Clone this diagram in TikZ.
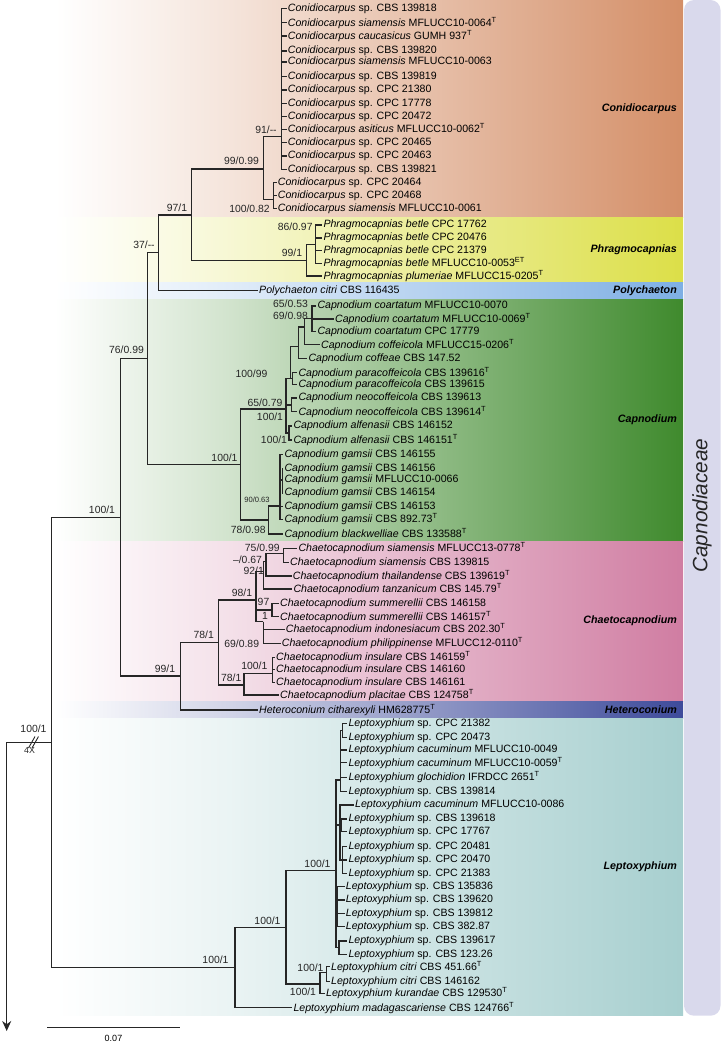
\documentclass[tikz,border=0pt]{standalone}
\usepackage{fontspec}
\setmainfont{Liberation Sans}
\usetikzlibrary{arrows.meta}
\definecolor{TreeInk}{HTML}{262626}
\definecolor{ConidioTone}{HTML}{D48F68}
\definecolor{PhragmoTone}{HTML}{DCDF48}
\definecolor{PolyTone}{HTML}{7EAFE4}
\definecolor{CapnoTone}{HTML}{3F8A2D}
\definecolor{ChaetoTone}{HTML}{D07DA2}
\definecolor{HeteroTone}{HTML}{3E4B9B}
\definecolor{LeptoTone}{HTML}{A7CFCF}
\definecolor{FamilyBar}{HTML}{D9D9EC}
\newcommand{\tx}[2]{\textit{#1} #2}
\newcommand{\typ}{\textsuperscript{T}}
% clade band: top, bottom, colour
\newcommand{\cladeband}[3]{%
  \shade[left color=white,right color=#3!24] (55,#1) rectangle (232,#2);
  \shade[left color=#3!24,right color=#3] (231.5,#1) rectangle (683,#2);
}

\begin{document}
\begin{tikzpicture}[x=1pt,y=-1pt,
  branch/.style={draw=TreeInk,line width=1.3pt},
  taxon/.style={anchor=west,inner xsep=1pt,inner ysep=0pt,font=\fontsize{10.6}{12}\selectfont},
  support/.style={inner sep=0pt,font=\fontsize{10.4}{12}\selectfont,text=TreeInk},
  clade/.style={anchor=east,inner sep=0pt,font=\fontsize{10.7}{12}\selectfont\bfseries\itshape}
]
\useasboundingbox (0,0) rectangle (721,1045);

% backgrounds
\cladeband{0}{217.3}{ConidioTone}
\cladeband{217.3}{282.3}{PhragmoTone}
\cladeband{282.3}{299}{PolyTone}
\cladeband{299}{541.7}{CapnoTone}
\cladeband{541.7}{701.7}{ChaetoTone}
\cladeband{701.7}{718.3}{HeteroTone}
\cladeband{718.3}{1015.7}{LeptoTone}
\fill[FamilyBar,rounded corners=10pt] (684,0) rectangle (720.5,1015.7);
\node[rotate=90,inner sep=0pt,font=\fontsize{20.8}{24}\selectfont\itshape,text=black!85] (family) at (702,505.5) {Capnodiaceae};

% clade names
\node[clade] (labCon) at (677,108.3) {Conidiocarpus};
\node[clade] (labPhr) at (677,249.3) {Phragmocapnias};
\node[clade] (labPol) at (677,290.7) {Polychaeton};
\node[clade] (labCap) at (677,419.3) {Capnodium};
\node[clade] (labCha) at (677,620.7) {Chaetocapnodium};
\node[clade] (labHet) at (677,710) {Heteroconium};
\node[clade] (labLep) at (677,866.7) {Leptoxyphium};

% internal nodes
\coordinate (nRoot) at (6.7,742.3);
\coordinate (nOut) at (6.7,1031);
\coordinate (nIng) at (51.7,742.3);
\coordinate (nFam) at (120.7,517.7);
\coordinate (n76) at (147.7,358.3);
\coordinate (n37) at (158.3,252.7);
\coordinate (n97) at (191.7,215);
\coordinate (nConA) at (263.7,169);
\coordinate (nCon13) at (281.7,136.7);
\coordinate (nCon3) at (273.3,199.3);
\coordinate (nPhrA) at (306.7,260.7);
\coordinate (nPhrB) at (315.7,244.3);
\coordinate (nCapA) at (240.5,464.3);
\coordinate (nCapU) at (286,409);
\coordinate (nCapW) at (290.7,378.5);
\coordinate (nCapX) at (298.3,346.7);
\coordinate (nCapY) at (304.3,327);
\coordinate (nCapZ) at (312,318.3);
\coordinate (nCapPara) at (292.7,378.5);
\coordinate (nCapNeo) at (291.5,405);
\coordinate (nCapAlf) at (289,433);
\coordinate (nCapG) at (268.3,520);
\coordinate (nCapGam) at (280,506);
\coordinate (nCapGam2) at (282.3,480);
\coordinate (n99c) at (180.5,676);
\coordinate (nChaA) at (218.3,642.3);
\coordinate (nCha98) at (256,600);
\coordinate (nChaP) at (263.3,571.7);
\coordinate (nChaQ) at (266,561.7);
\coordinate (nChaR) at (283.3,553.3);
\coordinate (nChaSum) at (272,610);
\coordinate (nChaIP) at (263.3,621.7);
\coordinate (nChaB) at (244,685);
\coordinate (nChaIns) at (272.7,673.3);
\coordinate (nLepA) at (235,967.7);
\coordinate (nLepB) at (286,927.3);
\coordinate (nLepC) at (336,870.7);
\coordinate (nLepK) at (320,984);
\coordinate (nLepCit) at (326.7,972.7);
\coordinate (nLepS1) at (340.7,780);
\coordinate (nLepS1a) at (342.5,730.3);
\coordinate (nLepS2) at (340,825);
\coordinate (nLepS2a) at (341.8,825.3);
\coordinate (nLepS2b) at (342.8,860);
\coordinate (nLepS3) at (337.5,906.7);
\coordinate (nLepS4) at (339,947.7);

\draw[branch] (nRoot) -- (nIng);
\draw[branch,-{Stealth[length=10pt,width=9pt]}] (nRoot) -- (nOut);
\foreach \a/\b in {nIng/nFam,nIng/nLepA,nFam/n76,nFam/n99c,n76/n37,n76/nCapA,
  n37/n97,n97/nConA,n97/nPhrA,nConA/nCon13,nConA/nCon3,nPhrA/nPhrB,
  nCapA/nCapU,nCapA/nCapG,nCapU/nCapW,nCapU/nCapNeo,nCapU/nCapAlf,
  nCapW/nCapX,nCapW/nCapPara,nCapX/nCapY,nCapY/nCapZ,nCapG/nCapGam,nCapGam/nCapGam2,
  n99c/nChaA,nChaA/nCha98,nChaA/nChaB,nCha98/nChaP,nCha98/nChaSum,nCha98/nChaIP,
  nChaP/nChaQ,nChaQ/nChaR,nChaB/nChaIns,
  nLepA/nLepB,nLepB/nLepC,nLepB/nLepK,nLepK/nLepCit,nLepC/nLepS1,nLepC/nLepS2,
  nLepC/nLepS3,nLepC/nLepS4,nLepS1/nLepS1a,nLepS2/nLepS2a,nLepS2/nLepS2b}
  \draw[branch] (\a) |- (\b);

% Conidiocarpus, Phragmocapnias, Polychaeton
\foreach \p/\x/\y/\lab [count=\i] in {
  nCon13/286.7/8.5/{\tx{Conidiocarpus}{sp. CBS 139818}},
  nCon13/286.7/22.7/{\tx{Conidiocarpus siamensis}{MFLUCC10-0064\typ}},
  nCon13/286.7/36/{\tx{Conidiocarpus caucasicus}{GUMH 937\typ}},
  nCon13/286.7/51/{\tx{Conidiocarpus}{sp. CBS 139820}},
  nCon13/286.7/62/{\tx{Conidiocarpus siamensis}{MFLUCC10-0063}},
  nCon13/286.7/76.3/{\tx{Conidiocarpus}{sp. CBS 139819}},
  nCon13/286.7/90/{\tx{Conidiocarpus}{sp. CPC 21380}},
  nCon13/286.7/103.3/{\tx{Conidiocarpus}{sp. CPC 17778}},
  nCon13/286.7/116.7/{\tx{Conidiocarpus}{sp. CPC 20472}},
  nCon13/286.7/129.3/{\tx{Conidiocarpus asiticus}{MFLUCC10-0062\typ}},
  nCon13/286.7/142.7/{\tx{Conidiocarpus}{sp. CPC 20465}},
  nCon13/286.7/156/{\tx{Conidiocarpus}{sp. CPC 20463}},
  nCon13/286.7/169.3/{\tx{Conidiocarpus}{sp. CBS 139821}},
  nCon3/276.7/182.3/{\tx{Conidiocarpus}{sp. CPC 20464}},
  nCon3/276.7/195.3/{\tx{Conidiocarpus}{sp. CPC 20468}},
  nCon3/276.7/208.3/{\tx{Conidiocarpus siamensis}{MFLUCC10-0061}},
  nPhrB/322.3/225/{\tx{Phragmocapnias betle}{CPC 17762}},
  nPhrB/322.3/238/{\tx{Phragmocapnias betle}{CPC 20476}},
  nPhrB/322.3/250.7/{\tx{Phragmocapnias betle}{CPC 21379}},
  nPhrB/322.3/263.3/{\tx{Phragmocapnias betle}{MFLUCC10-0053\textsuperscript{ET}}},
  nPhrA/322.3/276/{\tx{Phragmocapnias plumeriae}{MFLUCC15-0205\typ}},
  n37/258/290.7/{\tx{Polychaeton citri}{CBS 116435}}}{
  \node[taxon] (con\i) at (\x,\y) {\lab};
  \draw[branch] (\p) |- (con\i.west);
}

% Capnodium
\foreach \p/\x/\y/\lab [count=\i] in {
  nCapZ/316.3/306/{\tx{Capnodium coartatum}{MFLUCC10-0070}},
  nCapZ/334/319/{\tx{Capnodium coartatum}{MFLUCC10-0069\typ}},
  nCapZ/316.3/331.7/{\tx{Capnodium coartatum}{CPC 17779}},
  nCapY/320/344.7/{\tx{Capnodium coffeicola}{MFLUCC15-0206\typ}},
  nCapX/307.3/358.3/{\tx{Capnodium coffeae}{CBS 147.52}},
  nCapPara/297.3/372.7/{\tx{Capnodium paracoffeicola}{CBS 139616\typ}},
  nCapPara/297.3/384.3/{\tx{Capnodium paracoffeicola}{CBS 139615}},
  nCapNeo/297.3/398/{\tx{Capnodium neocoffeicola}{CBS 139613}},
  nCapNeo/297.3/411.7/{\tx{Capnodium neocoffeicola}{CBS 139614\typ}},
  nCapAlf/292.3/426/{\tx{Capnodium alfenasii}{CBS 146152}},
  nCapAlf/292.3/440/{\tx{Capnodium alfenasii}{CBS 146151\typ}},
  nCapGam/283.3/454.3/{\tx{Capnodium gamsii}{CBS 146155}},
  nCapGam2/283.3/468.3/{\tx{Capnodium gamsii}{CBS 146156}},
  nCapGam2/283.3/480/{\tx{Capnodium gamsii}{MFLUCC10-0066}},
  nCapGam2/283.3/493/{\tx{Capnodium gamsii}{CBS 146154}},
  nCapGam/283.3/506.7/{\tx{Capnodium gamsii}{CBS 146153}},
  nCapGam/283.3/519.3/{\tx{Capnodium gamsii}{CBS 892.73\typ}},
  nCapG/283.3/534/{\tx{Capnodium blackwelliae}{CBS 133588\typ}}}{
  \node[taxon] (cap\i) at (\x,\y) {\lab};
  \draw[branch] (\p) |- (cap\i.west);
}

% Chaetocapnodium, Heteroconium
\foreach \p/\x/\y/\lab [count=\i] in {
  nChaR/297.3/548.3/{\tx{Chaetocapnodium siamensis}{MFLUCC13-0778\typ}},
  nChaR/289/562.7/{\tx{Chaetocapnodium siamensis}{CBS 139815}},
  nChaQ/291.7/576/{\tx{Chaetocapnodium thailandense}{CBS 139619\typ}},
  nChaP/292.3/589/{\tx{Chaetocapnodium tanzanicum}{CBS 145.79\typ}},
  nChaSum/279/603.3/{\tx{Chaetocapnodium summerellii}{CBS 146158}},
  nChaSum/279/616.7/{\tx{Chaetocapnodium summerellii}{CBS 146157\typ}},
  nChaIP/284.7/629.3/{\tx{Chaetocapnodium indonesiacum}{CBS 202.30\typ}},
  nChaIP/280.7/643.3/{\tx{Chaetocapnodium philippinense}{MFLUCC12-0110\typ}},
  nChaIns/275/657.3/{\tx{Chaetocapnodium insulare}{CBS 146159\typ}},
  nChaIns/275/669.3/{\tx{Chaetocapnodium insulare}{CBS 146160}},
  nChaIns/275/682.3/{\tx{Chaetocapnodium insulare}{CBS 146161}},
  nChaB/279/695/{\tx{Chaetocapnodium placitae}{CBS 124758\typ}},
  n99c/258/710/{\tx{Heteroconium citharexyli}{HM628775\typ}}}{
  \node[taxon] (cha\i) at (\x,\y) {\lab};
  \draw[branch] (\p) |- (cha\i.west);
}

% Leptoxyphium
\foreach \p/\x/\y/\lab [count=\i] in {
  nLepS1a/347.3/723.3/{\tx{Leptoxyphium}{sp. CPC 21382}},
  nLepS1a/347.3/737.3/{\tx{Leptoxyphium}{sp. CPC 20473}},
  nLepS1/347.3/750/{\tx{Leptoxyphium cacuminum}{MFLUCC10-0049}},
  nLepS1/347.3/762.7/{\tx{Leptoxyphium cacuminum}{MFLUCC10-0059\typ}},
  nLepS1/347.3/777.3/{\tx{Leptoxyphium glochidion}{IFRDCC 2651\typ}},
  nLepS1/347.3/791.5/{\tx{Leptoxyphium}{sp. CBS 139814}},
  nLepS2/354/805/{\tx{Leptoxyphium cacuminum}{MFLUCC10-0086}},
  nLepS2a/347.3/819/{\tx{Leptoxyphium}{sp. CBS 139618}},
  nLepS2a/347.3/831.7/{\tx{Leptoxyphium}{sp. CPC 17767}},
  nLepS2b/347.3/846.7/{\tx{Leptoxyphium}{sp. CPC 20481}},
  nLepS2b/347.3/860/{\tx{Leptoxyphium}{sp. CPC 20470}},
  nLepS2b/347.3/873.3/{\tx{Leptoxyphium}{sp. CPC 21383}},
  nLepS3/344.7/886.7/{\tx{Leptoxyphium}{sp. CBS 135836}},
  nLepS3/344.7/900/{\tx{Leptoxyphium}{sp. CBS 139620}},
  nLepS3/344.7/913.7/{\tx{Leptoxyphium}{sp. CBS 139812}},
  nLepS3/344.7/926.7/{\tx{Leptoxyphium}{sp. CBS 382.87}},
  nLepS4/347.3/941/{\tx{Leptoxyphium}{sp. CBS 139617}},
  nLepS4/347.3/954.3/{\tx{Leptoxyphium}{sp. CBS 123.26}},
  nLepCit/330/966.7/{\tx{Leptoxyphium citri}{CBS 451.66\typ}},
  nLepCit/330/981.7/{\tx{Leptoxyphium citri}{CBS 146162}},
  nLepK/325/993.3/{\tx{Leptoxyphium kurandae}{CBS 129530\typ}},
  nLepA/292.3/1007.7/{\tx{Leptoxyphium madagascariense}{CBS 124766\typ}}}{
  \node[taxon] (lep\i) at (\x,\y) {\lab};
  \draw[branch] (\p) |- (lep\i.west);
}

% support values
\foreach \x/\y/\v [count=\i] in {
  266/129.3/{91/-{}-}, 241.5/161/{99/0.99}, 249.5/208.3/{100/0.82}, 177/207.7/{97/1},
  144/244.3/{37/-{}-}, 295.2/226.7/{86/0.97}, 292/253/{99/1},
  290.5/304/{65/0.53}, 290.5/316/{69/0.98}, 251.5/374/{100/99}, 265/402.3/{65/0.79},
  270/416.7/{100/1}, 274/440/{100/1}, 224.5/457.7/{100/1}, 248.3/529.3/{78/0.98},
  126.5/350/{76/0.99}, 102/509.3/{100/1},
  262.3/547.3/{75/0.99}, 247.5/559.3/{--/0.67}, 253.7/570.7/{92/1}, 242/592.3/{98/1},
  263.5/602.3/{97}, 265/616/{1}, 241.7/643.3/{69/0.89}, 203.7/635/{78/1},
  254.3/665.7/{100/1}, 231.3/677.7/{78/1}, 165/668.3/{99/1},
  33.5/728.3/{100/1}, 215.5/960/{100/1}, 267.5/921/{100/1}, 317.5/863.3/{100/1},
  310.5/967.3/{100/1}, 303/991.7/{100/1}}
  \node[support] (bs\i) at (\x,\y) {\v};
\node[support,font=\fontsize{7.6}{9}\selectfont] (bsGam) at (257,500) {90/0.63};
\node[support,font=\fontsize{8.8}{10}\selectfont] (fourX) at (29.5,750.5) {4X};

% break on the root branch
\draw[branch,line width=0.9pt] (28.5,748) -- (35,736.5);
\draw[branch,line width=0.9pt] (32,748) -- (38.5,736.5);

% scale bar
\coordinate (sbL) at (47.3,1027.3);
\coordinate (sbR) at (180,1027.3);
\draw[branch,line width=1.1pt] (sbL) -- (sbR);
\node[inner sep=0pt,font=\fontsize{9}{10}\selectfont] (sbLab) at (113.5,1038.5) {0.07};
\end{tikzpicture}
\end{document}
